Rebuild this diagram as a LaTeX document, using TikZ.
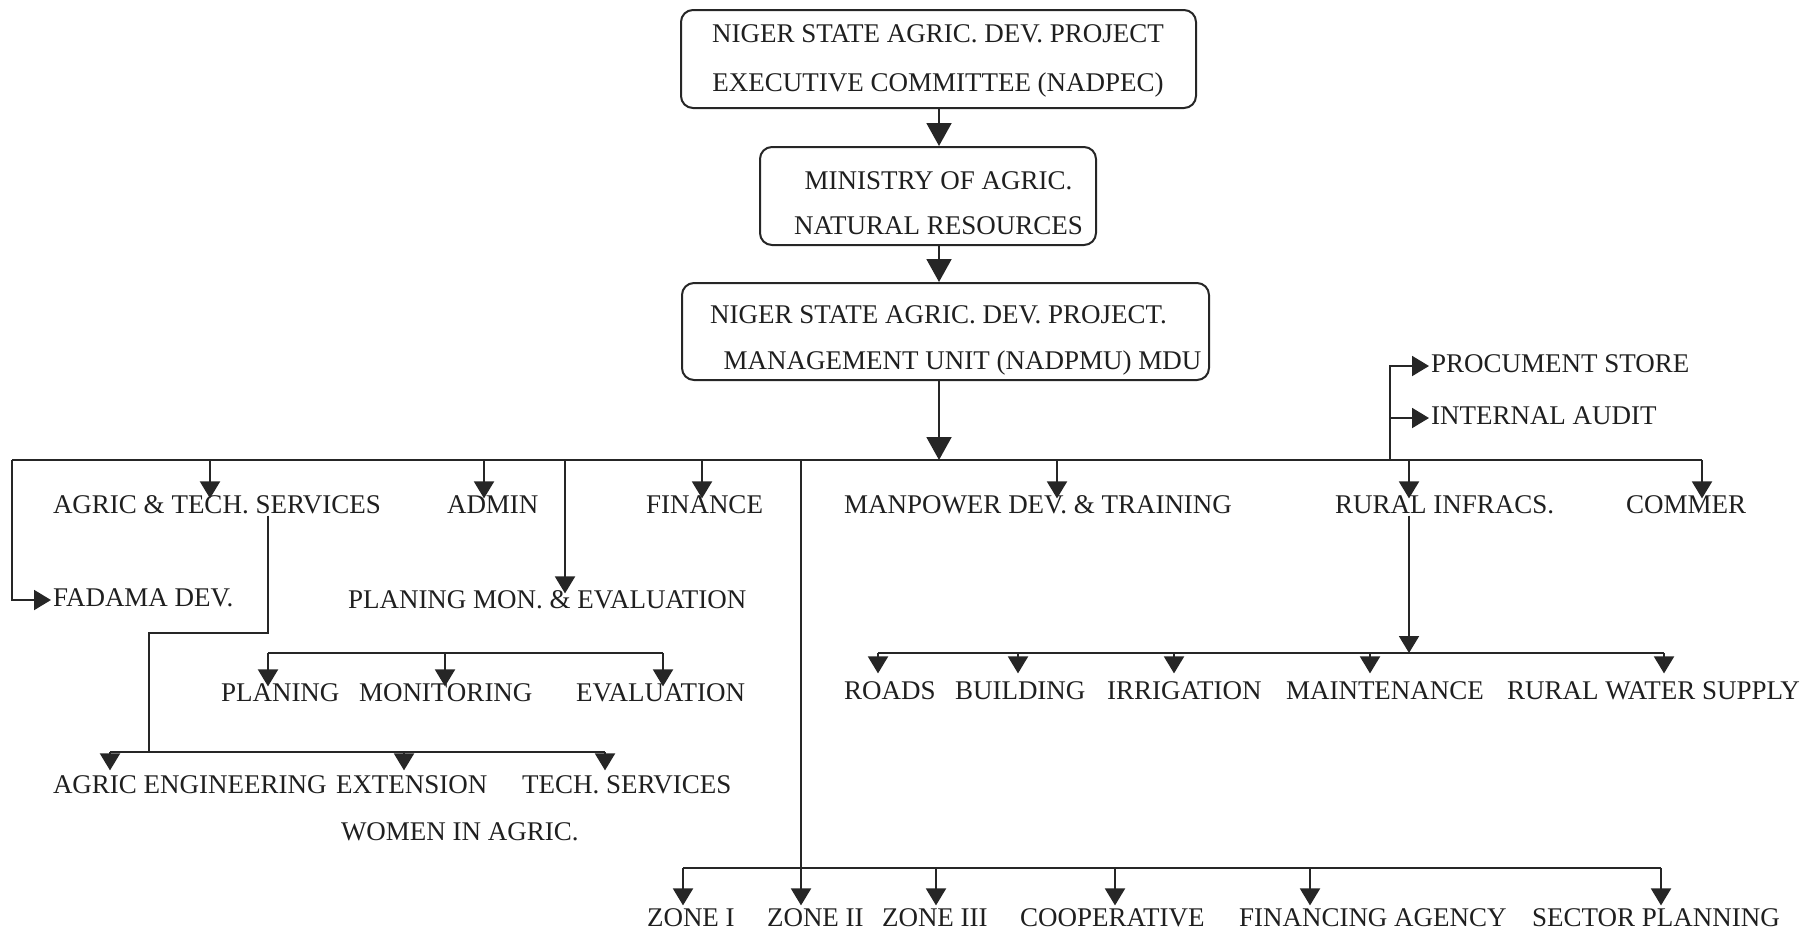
\documentclass[tikz,border=0pt]{standalone}
\usepackage{fontspec}
\setmainfont{Liberation Serif}
\usetikzlibrary{arrows.meta}
\begin{document}
\begin{tikzpicture}[x=0.5pt,y=-0.5pt,
  lbl/.style={inner sep=0pt, outer sep=1pt, text height=0.66em, text depth=0pt,
    font=\fontsize{13.5}{16}\selectfont, text=black!88},
  lblw/.style={lbl, anchor=west},
  box/.style={draw=black!85, rounded corners=6pt, line width=1pt, inner sep=0pt},
  ln/.style={line width=1pt, draw=black!85},
  arr/.style={ln, -{Triangle[length=8.5pt,width=10pt]}},
  bigarr/.style={ln, -{Triangle[length=11.5pt,width=12.5pt]}},
  far/.style={shorten >=5.5pt},
]
\useasboundingbox (0,0) rectangle (1819,938);

% top boxes
\node[box, minimum width=257.5pt, minimum height=49pt] (b1) at (938.5,59) {};
\node[box, minimum width=168pt, minimum height=49pt] (b2) at (928,196) {};
\node[box, minimum width=263.5pt, minimum height=48.5pt] (b3) at (945.5,331.5) {};
\node[lbl] (t1a) at (938,36) {NIGER STATE AGRIC. DEV. PROJECT};
\node[lbl] (t1b) at (938,85) {EXECUTIVE COMMITTEE (NADPEC)};
\node[lbl] (t2a) at (938.5,183) {MINISTRY OF AGRIC.};
\node[lbl] (t2b) at (938.5,228) {NATURAL RESOURCES};
\node[lbl] (t3a) at (938.5,317) {NIGER STATE AGRIC. DEV. PROJECT.};
\node[lbl] (t3b) at (962.5,363) {MANAGEMENT UNIT (NADPMU) MDU};

\coordinate (cx) at (939,0);
\coordinate (busC) at (939,460);
\draw[bigarr] (b1.south -| cx) -- (b2.north -| cx);
\draw[bigarr] (b2.south -| cx) -- (b3.north -| cx);
\draw[bigarr] (b3.south -| cx) -- (busC);

% main bus
\coordinate (busL) at (12,460);
\coordinate (busR) at (1702,460);
\draw[ln] (busL) -- (busR);
\coordinate (mAts) at (210,460);
\coordinate (mAdm) at (484,460);
\coordinate (mPme) at (565,460);
\coordinate (mFin) at (702,460);
\coordinate (mZone) at (801,460);
\coordinate (mMan) at (1057,460);
\coordinate (mProc) at (1390,460);
\coordinate (mRur) at (1409,460);

% first level
\node[lblw] (ats) at (51,507) {AGRIC \& TECH. SERVICES};
\node[lblw] (adm) at (445,507) {ADMIN};
\node[lblw] (fin) at (644,507) {FINANCE};
\node[lblw] (man) at (842,507) {MANPOWER DEV. \& TRAINING};
\node[lblw] (rur) at (1333,507) {RURAL INFRACS.};
\node[lblw] (com) at (1624,507) {COMMER};
\draw[arr] (mAts) -- (mAts |- ats.north);
\draw[arr] (mAdm) -- (mAdm |- adm.north);
\draw[arr] (mFin) -- (mFin |- fin.north);
\draw[arr] (mMan) -- (mMan |- man.north);
\draw[arr] (mRur) -- (mRur |- rur.north);
\draw[arr] (busR) -- (busR |- com.north);

% procurement / audit
\node[lblw] (pro) at (1429,366) {PROCUMENT STORE};
\node[lblw] (aud) at (1429,418) {INTERNAL AUDIT};
\draw[arr] (mProc) |- (pro.west);
\draw[arr] (mProc |- aud.west) -- (aud.west);

% fadama
\node[lblw] (fad) at (51,600) {FADAMA DEV.};
\draw[arr] (busL) |- (fad.west);

% planning mon & evaluation
\node[lblw] (pme) at (346,602) {PLANING MON. \& EVALUATION};
\draw[arr] (mPme) -- (mPme |- pme.north);
\coordinate (pL) at (268,653);
\coordinate (pM) at (445,653);
\coordinate (pR) at (663,653);
\draw[ln] (pL) -- (pR);
\node[lblw] (pla) at (219,695) {PLANING};
\node[lblw] (mon) at (357,695) {MONITORING};
\node[lblw] (eva) at (574,695) {EVALUATION};
\draw[arr] (pL) -- (pL |- pla.north);
\draw[arr] (pM) -- (pM |- mon.north);
\draw[arr] (pR) -- (pR |- eva.north);

% agric engineering branch
\coordinate (aeX) at (268,633);
\coordinate (aeJ) at (149,633);
\coordinate (aeB) at (149,752);
\draw[ln] (aeX |- ats.south) -- (aeX) -- (aeJ) -- (aeB);
\coordinate (aL) at (110,752);
\coordinate (aM) at (404,752);
\coordinate (aR) at (605,752);
\draw[ln] (aL) -- (aR);
\node[lblw] (aen) at (51,787) {AGRIC ENGINEERING};
\node[lblw] (ext) at (334,787) {EXTENSION};
\node[lblw] (tec) at (520,787) {TECH. SERVICES};
\node[lblw] (wom) at (339,834) {WOMEN IN AGRIC.};
\draw[arr, shorten >=4pt] (aL) -- (aL |- aen.north);
\draw[arr, shorten >=4pt] (aM) -- (aM |- ext.north);
\draw[arr, shorten >=4pt] (aR) -- (aR |- tec.north);

% rural infrastructure branch
\coordinate (rB) at (1409,653);
\draw[arr] (rur.south -| mRur) -- (rB);
\coordinate (rL) at (878,653);
\coordinate (rBu) at (1018,653);
\coordinate (rIr) at (1174,653);
\coordinate (rMa) at (1370,653);
\coordinate (rR) at (1664,653);
\draw[ln] (rL) -- (rR);
\node[lblw] (roa) at (842,693) {ROADS};
\node[lblw] (bui) at (953,693) {BUILDING};
\node[lblw] (irr) at (1105,693) {IRRIGATION};
\node[lblw] (mai) at (1284,693) {MAINTENANCE};
\node[lblw] (rws) at (1505,693) {RURAL WATER SUPPLY};
\draw[arr, far] (rL) -- (rL |- roa.north);
\draw[arr, far] (rBu) -- (rBu |- bui.north);
\draw[arr, far] (rIr) -- (rIr |- irr.north);
\draw[arr, far] (rMa) -- (rMa |- mai.north);
\draw[arr, far] (rR) -- (rR |- rws.north);

% zones branch
\coordinate (zL) at (683,868);
\coordinate (z3x) at (936,868);
\coordinate (zcx) at (1115,868);
\coordinate (zfx) at (1310,868);
\coordinate (zR) at (1661,868);
\draw[ln] (zL) -- (zR);
\node[lblw] (z1) at (645,920) {ZONE I};
\node[lblw] (z2) at (765,920) {ZONE II};
\node[lblw] (z3) at (880,920) {ZONE III};
\node[lblw] (coo) at (1018,920) {COOPERATIVE};
\node[lblw] (fag) at (1237,920) {FINANCING AGENCY};
\node[lblw] (spl) at (1530,920) {SECTOR PLANNING};
\draw[arr, shorten >=3pt] (mZone) -- (mZone |- z2.north);
\draw[arr, shorten >=3pt] (zL) -- (zL |- z1.north);
\draw[arr, shorten >=3pt] (z3x) -- (z3x |- z3.north);
\draw[arr, shorten >=3pt] (zcx) -- (zcx |- coo.north);
\draw[arr, shorten >=3pt] (zfx) -- (zfx |- fag.north);
\draw[arr, shorten >=3pt] (zR) -- (zR |- spl.north);
\end{tikzpicture}
\end{document}
